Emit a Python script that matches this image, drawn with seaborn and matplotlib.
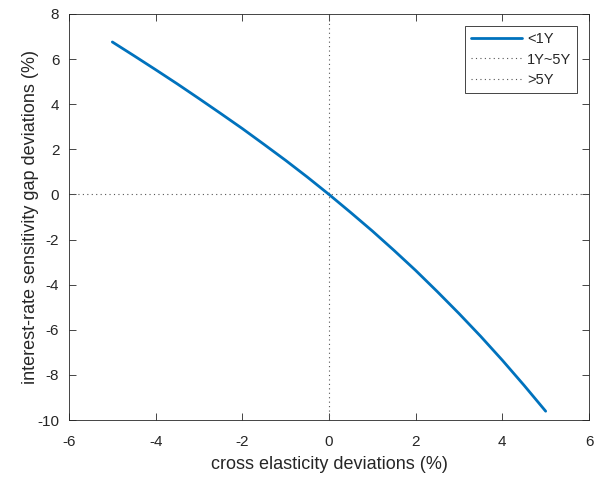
import matplotlib
matplotlib.use("Agg")
import matplotlib.pyplot as plt
import seaborn as sns
import pandas as pd

# cross elasticity deviation (%) and resulting gap deviation (%) for the <1Y bucket
cross_elasticity = [-5.0, -4.5, -4.0, -3.5, -3.0, -2.5, -2.0, -1.5, -1.0, -0.5,
                    0.0, 0.5, 1.0, 1.5, 2.0, 2.5, 3.0, 3.5, 4.0, 4.5, 5.0]
gap_lt1y = [6.76, 6.15, 5.53, 4.90, 4.25, 3.59, 2.92, 2.22, 1.51, 0.77,
            0.0, -0.80, -1.62, -2.48, -3.37, -4.31, -5.28, -6.29, -7.35, -8.46, -9.61]
series_names = ["<1Y", "1Y~5Y", ">5Y"]
x_ticks = [-6, -4, -2, 0, 2, 4, 6]
y_ticks = [-10, -8, -6, -4, -2, 0, 2, 4, 6, 8]

sns.set_style("ticks")
plt.rcParams["font.family"] = ["Liberation Sans", "DejaVu Sans"]
plt.rcParams["axes.unicode_minus"] = False

df = pd.DataFrame({"x": cross_elasticity, "y": gap_lt1y})

fig = plt.figure(figsize=(6.01, 4.78), dpi=100)
ax = fig.add_axes([69 / 601, 58 / 478, 520 / 601, 406 / 478])

axis_color = "#262626"
ref_color = "#555555"
dots = (0, (1, 3))

# zero reference lines
ax.axhline(0, color=ref_color, linestyle=dots, linewidth=0.8, zorder=1)
ax.axvline(0, color=ref_color, linestyle=dots, linewidth=0.8, zorder=1)

sns.lineplot(data=df, x="x", y="y", ax=ax, color="#0072BD", linewidth=2,
             label=series_names[0], zorder=3)
ax.plot([], [], color=ref_color, linestyle=dots, linewidth=0.8, label=series_names[1])
ax.plot([], [], color=ref_color, linestyle=dots, linewidth=0.8, label=series_names[2])

ax.set_xlim(-6, 6)
ax.set_ylim(-10, 8)
ax.set_xticks(x_ticks)
ax.set_yticks(y_ticks)
ax.set_xlabel("cross elasticity deviations (%)", fontsize=13, color=axis_color, labelpad=4.5)
ax.set_ylabel("interest-rate sensitivity gap deviations (%)", fontsize=13,
              color=axis_color, labelpad=-1.5)

for side in ["top", "right", "bottom", "left"]:
    ax.spines[side].set_visible(True)
    ax.spines[side].set_color(axis_color)
    ax.spines[side].set_linewidth(0.6)
ax.tick_params(direction="in", top=True, right=True, length=5, width=0.6,
               colors=axis_color, labelsize=11, labelcolor=axis_color)
ax.tick_params(axis="x", pad=11)
ax.tick_params(axis="y", pad=7)

leg = ax.legend(loc="upper right", fontsize=10.5, frameon=True, fancybox=False,
                framealpha=1, edgecolor=axis_color, handlelength=3.5,
                borderpad=0.4, labelspacing=0.45, handletextpad=0.35,
                borderaxespad=0, bbox_to_anchor=(0.977, 0.970))
leg.get_frame().set_linewidth(0.6)

fig.savefig("out.png", dpi=100)
